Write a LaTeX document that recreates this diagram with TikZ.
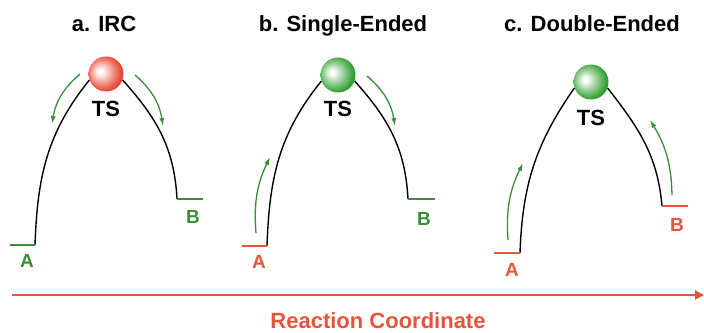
\documentclass[tikz,border=0pt]{standalone}
\usepackage{fontspec}
\setmainfont{Liberation Sans}
\usetikzlibrary{arrows.meta}
\definecolor{grn}{RGB}{58,142,58}
\definecolor{rd}{RGB}{228,85,58}
\definecolor{bgrn}{RGB}{50,160,50}
\definecolor{brd}{RGB}{232,70,50}
\pgfdeclareradialshading{glossred}{\pgfpoint{-9bp}{4bp}}{color(0bp)=(white); color(3bp)=(white); color(13bp)=(brd!45!white); color(26bp)=(brd); color(42bp)=(brd!95!black); color(50bp)=(brd!85!black)}
\pgfdeclareradialshading{glossgrn}{\pgfpoint{-9bp}{4bp}}{color(0bp)=(white); color(3bp)=(white); color(13bp)=(bgrn!45!white); color(26bp)=(bgrn); color(42bp)=(bgrn!95!black); color(50bp)=(bgrn!85!black)}

\begin{document}
\begin{tikzpicture}[x=1pt,y=1pt,
    hill/.style={line width=1.4pt},
    lvl/.style={line width=2.8pt},
    mov/.style={grn,line width=1.3pt,-{Latex[length=8pt,width=5pt]}},
    tsball/.style={circle,minimum size=35pt,inner sep=0pt},
    ttl/.style={font=\fontsize{22}{24}\selectfont\bfseries,anchor=base},
    lab/.style={font=\fontsize{19}{21}\selectfont\bfseries,anchor=base}]
    \useasboundingbox (0,0) rectangle (704,332);

    % a. IRC
    \node[ttl] (ta) at (104,300) {a. IRC};
    \node[tsball,shading=glossred] (Ta) at (106,258) {};
    \coordinate (aA0) at (10,87);  \coordinate (aA1) at (35,87);
    \coordinate (aB0) at (177,133); \coordinate (aB1) at (203,133);
    \draw[hill] (aA1) to[out=88,in=231] (Ta.200);
    \draw[hill] (Ta.-20) to[out=-48,in=93] (aB0);
    \draw[lvl,grn] (aA0) -- (aA1);
    \draw[lvl,grn] (aB0) -- (aB1);
    \node[lab,grn] (la) at (27,64) {A};
    \node[lab,grn] (lb) at (193,108) {B};
    \node[ttl] (sa) at (106,215) {TS};
    \coordinate (am1) at (80,258);  \coordinate (am2) at (52,208);
    \coordinate (am3) at (135,257); \coordinate (am4) at (163,206);
    \draw[mov] (am1) to[bend right=20] (am2);
    \draw[mov] (am3) to[bend left=20] (am4);

    % b. Single-Ended
    \node[ttl] (tb) at (343,300) {b. Single-Ended};
    \node[tsball,shading=glossgrn] (Tb) at (338,257) {};
    \coordinate (bA0) at (242,86);  \coordinate (bA1) at (267,86);
    \coordinate (bB0) at (408,133); \coordinate (bB1) at (435,133);
    \draw[hill] (bA1) to[out=88,in=231] (Tb.200);
    \draw[hill] (Tb.-20) to[out=-48,in=93] (bB0);
    \draw[lvl,rd] (bA0) -- (bA1);
    \draw[lvl,grn] (bB0) -- (bB1);
    \node[lab,rd] (lc) at (259,63) {A};
    \node[lab,grn] (ld) at (424,106) {B};
    \node[ttl] (sb) at (338,215) {TS};
    \coordinate (bm1) at (256,99);  \coordinate (bm2) at (270,175);
    \coordinate (bm3) at (367,256); \coordinate (bm4) at (395,206);
    \draw[mov] (bm1) to[bend left=15] (bm2);
    \draw[mov] (bm3) to[bend left=20] (bm4);

    % c. Double-Ended
    \node[ttl] (tc) at (592,300) {c. Double-Ended};
    \node[tsball,shading=glossgrn] (Tc) at (591,250) {};
    \coordinate (cA0) at (494,79);  \coordinate (cA1) at (520,79);
    \coordinate (cB0) at (662,126); \coordinate (cB1) at (688,126);
    \draw[hill] (cA1) to[out=88,in=235] (Tc.200);
    \draw[hill] (Tc.-20) to[out=-52,in=95] (cB0);
    \draw[lvl,rd] (cA0) -- (cA1);
    \draw[lvl,rd] (cB0) -- (cB1);
    \node[lab,rd] (le) at (512,56) {A};
    \node[lab,rd] (lf) at (677,100) {B};
    \node[ttl] (sc) at (591,206) {TS};
    \coordinate (cm1) at (508,92);  \coordinate (cm2) at (523,169);
    \coordinate (cm3) at (672,137); \coordinate (cm4) at (650,212);
    \draw[mov] (cm1) to[bend left=15] (cm2);
    \draw[mov] (cm3) to[bend right=15] (cm4);

    % axis
    \coordinate (x0) at (12,37);
    \coordinate (x1) at (704,37);
    \draw[rd,line width=1.8pt,-{Triangle[length=9pt,width=9pt]}] (x0) -- (x1);
    \node[ttl,rd] (rc) at (378,4) {Reaction Coordinate};
\end{tikzpicture}
\end{document}
